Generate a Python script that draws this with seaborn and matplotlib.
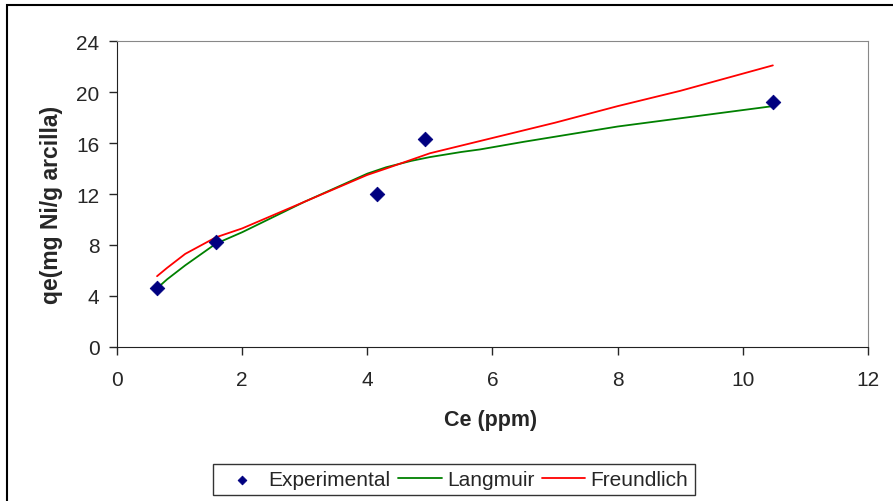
import pandas as pd
import matplotlib.pyplot as plt
import seaborn as sns
from matplotlib.patches import Rectangle

# experimental data
ce_exp = [0.64, 1.58, 4.15, 4.92, 10.48]
qe_exp = [4.6, 8.25, 12.0, 16.3, 19.25]

# Langmuir model curve
ce_lang = [0.64, 0.8, 1.09, 1.58, 2.0, 3.0, 4.0, 4.3, 4.7, 5.0, 5.5, 5.8, 6.5, 8.0, 10.48]
qe_lang = [4.6, 5.3, 6.4, 8.1, 9.0, 11.4, 13.6, 14.1, 14.6, 14.9, 15.3, 15.5, 16.1, 17.3, 18.9]

# Freundlich model curve
ce_freu = [0.64, 0.8, 1.09, 1.58, 2.0, 3.0, 4.0, 4.3, 5.0, 6.0, 7.0, 8.0, 9.0, 10.48]
qe_freu = [5.55, 6.2, 7.3, 8.6, 9.3, 11.4, 13.5, 14.0, 15.2, 16.4, 17.6, 18.9, 20.1, 22.1]

exp_df = pd.DataFrame({"Ce": ce_exp, "qe": qe_exp})
lang_df = pd.DataFrame({"Ce": ce_lang, "qe": qe_lang})
freu_df = pd.DataFrame({"Ce": ce_freu, "qe": qe_freu})

sns.set_style("ticks")
plt.rcParams["font.family"] = ["Liberation Sans", "DejaVu Sans"]

fig = plt.figure(figsize=(8.93, 5.02), dpi=100)
ax = fig.add_axes([0.131, 0.307, 0.841, 0.609])

sns.scatterplot(x="Ce", y="qe", data=exp_df, ax=ax, marker="D", s=55,
                color="#000080", edgecolor="#000080", label="Experimental", zorder=3)
sns.lineplot(x="Ce", y="qe", data=lang_df, ax=ax, color="#008000", lw=1.3,
             label="Langmuir", sort=True)
sns.lineplot(x="Ce", y="qe", data=freu_df, ax=ax, color="#ff0000", lw=1.3,
             label="Freundlich", sort=True)

ax.set_xlim(0, 12)
ax.set_ylim(0, 24)
ax.set_xticks(range(0, 13, 2))
ax.set_yticks(range(0, 25, 4))
ax.tick_params(labelsize=15, length=5.5, width=1, direction="out")
ax.tick_params(axis="x", pad=11)
ax.tick_params(axis="y", pad=7)
for s in ["left", "bottom"]:
    ax.spines[s].set_color("#222222")
for s in ["top", "right"]:
    ax.spines[s].set_color("#888888")
    ax.spines[s].set_visible(True)

ax.set_xlabel("Ce (ppm)", fontsize=15.5, fontweight="bold")
ax.set_ylabel("qe(mg Ni/g arcilla)", fontsize=16.5, fontweight="bold")
ax.xaxis.set_label_coords(0.497, -0.203)
ax.yaxis.set_label_coords(-0.072, 0.467)

leg = ax.legend(loc="center", bbox_to_anchor=(454 / 893, 1 - 480.5 / 502),
                bbox_transform=fig.transFigure, ncol=3, fontsize=15,
                frameon=True, fancybox=False, edgecolor="black",
                handlelength=2.1, columnspacing=0.35, handletextpad=0.25,
                markerscale=0.6, borderpad=0.3, borderaxespad=0.2)
leg.get_frame().set_linewidth(1)

# outer chart border
fig.patches.append(Rectangle((7 / 893, -0.1), 1.2, 1 - 6 / 502 + 0.1,
                             transform=fig.transFigure, fill=False,
                             edgecolor="black", lw=1.5))

fig.savefig("out.png", dpi=100)
